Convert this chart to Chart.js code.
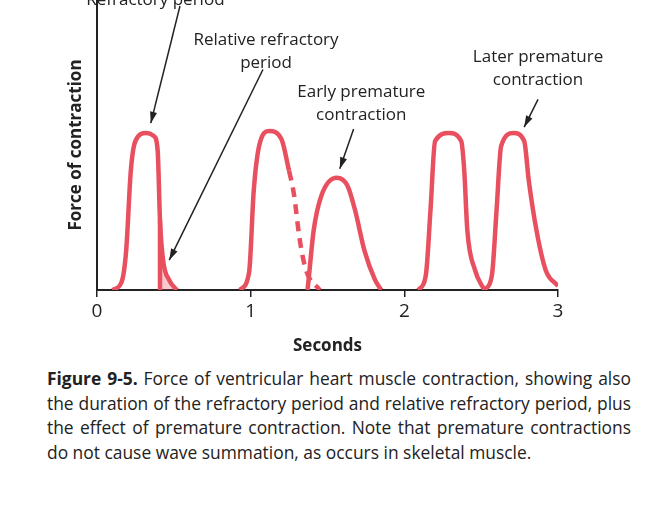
<!DOCTYPE html>
<html><head><meta charset="utf-8">
<script src="https://cdn.jsdelivr.net/npm/chart.js@4"></script>
<style>
body{margin:0;background:#fff;font-family:"Open Sans",sans-serif;}
#wrap{position:absolute;left:0;top:0;width:660px;height:360px;}
#cap{position:absolute;left:47px;top:366px;width:584px;font-size:17.4px;line-height:24.5px;text-align:justify;color:#222;}
</style></head><body>
<div id="wrap"><canvas id="c" width="660" height="360"></canvas></div>
<div id="cap"><b>Figure 9-5.</b> Force of ventricular heart muscle contraction, showing also the duration of the refractory period and relative refractory period, plus the effect of premature contraction. Note that premature contractions do not cause wave summation, as occurs in skeletal muscle.</div>
<script>
// seconds / force (arbitrary units, baseline 0)
const wave1 = [[0.1,0],[0.16,8],[0.19,40],[0.22,120],[0.25,150],[0.32,158],[0.37,155],[0.395,140],[0.41,70],[0.43,30],[0.47,10],[0.52,0]];
const refractoryMark = [[0.41,0],[0.41,70]];
const relTail = [[0.41,70],[0.43,30],[0.47,10],[0.52,0]];
const wave2 = [[0.93,0],[0.99,18],[1.02,100],[1.055,145],[1.12,160],[1.2,152],[1.25,120]];
const wave2dash = [[1.25,120],[1.28,98],[1.32,50],[1.36,20],[1.45,0]];
const early = [[1.37,0],[1.38,15],[1.41,60],[1.46,95],[1.56,113],[1.63,105],[1.68,80],[1.74,40],[1.81,10],[1.85,0]];
const wave4 = [[2.09,0],[2.14,15],[2.17,80],[2.2,150],[2.29,158],[2.37,150],[2.39,120],[2.41,60],[2.46,20],[2.52,0]];
const wave5 = [[2.52,0],[2.57,15],[2.6,80],[2.63,145],[2.71,158],[2.78,150],[2.81,110],[2.86,60],[2.92,20],[3.0,4]];
const xTicks = [0,1,2,3];

// text, x-seconds, y-force of label centre lines, arrow from/to
const notes = [
  {lines:['Refractory period'], x:0.38, y:292, from:[0.54,286], to:[0.35,168]},
  {lines:['Relative refractory','period'], x:1.1, y:252, from:[1.08,222], to:[0.47,30]},
  {lines:['Early premature','contraction'], x:1.72, y:199, from:[1.67,162], to:[1.58,122]},
  {lines:['Later premature','contraction'], x:2.87, y:234, from:[2.87,192], to:[2.78,164]}
];

const red = '#e8505f';
const pts = a => a.map(p => ({x:p[0], y:p[1]}));
function ds(a, extra) {
  return Object.assign({data:pts(a), borderColor:red, borderWidth:4.5, pointRadius:0, fill:false,
    cubicInterpolationMode:'monotone', borderCapStyle:'butt'}, extra || {});
}

const notesPlugin = {
  id:'notes',
  afterDatasetsDraw(chart) {
    const {ctx, scales:{x, y}} = chart;
    ctx.save();
    ctx.fillStyle = '#222'; ctx.strokeStyle = '#222';
    ctx.font = '17px "Open Sans"'; ctx.textAlign = 'center'; ctx.textBaseline = 'middle';
    notes.forEach(n => {
      n.lines.forEach((t, i) => ctx.fillText(t, x.getPixelForValue(n.x), y.getPixelForValue(n.y) + i*23));
      const x1 = x.getPixelForValue(n.from[0]), y1 = y.getPixelForValue(n.from[1]);
      const x2 = x.getPixelForValue(n.to[0]), y2 = y.getPixelForValue(n.to[1]);
      ctx.lineWidth = 1.5;
      ctx.beginPath(); ctx.moveTo(x1, y1); ctx.lineTo(x2, y2); ctx.stroke();
      const a = Math.atan2(y2 - y1, x2 - x1);
      ctx.beginPath(); ctx.moveTo(x2, y2);
      ctx.lineTo(x2 - 12*Math.cos(a - 0.3), y2 - 12*Math.sin(a - 0.3));
      ctx.lineTo(x2 - 12*Math.cos(a + 0.3), y2 - 12*Math.sin(a + 0.3));
      ctx.closePath(); ctx.fill();
    });
    ctx.restore();
  }
};

new Chart(document.getElementById('c'), {
  type:'line',
  data:{datasets:[
    ds(relTail, {borderWidth:0, fill:'origin', backgroundColor:'rgba(232,80,95,0.3)'}),
    ds(wave1), ds(refractoryMark, {cubicInterpolationMode:'default', tension:0}),
    ds(wave2), ds(wave2dash, {borderDash:[10,7]}),
    ds(early), ds(wave4), ds(wave5)
  ]},
  options:{
    responsive:false, animation:false,
    layout:{padding:{left:62, right:102, top:0, bottom:0}},
    plugins:{legend:{display:false}, tooltip:{enabled:false}},
    scales:{
      x:{type:'linear', min:0, max:3,
        afterBuildTicks: s => { s.ticks = xTicks.map(v => ({value:v})); },
        afterFit: s => { s.height = 70; },
        border:{color:'#222', width:2},
        grid:{drawOnChartArea:false, tickLength:7, color:'#222', lineWidth:1.5},
        ticks:{color:'#222', font:{size:19, family:'Open Sans'}, padding:3},
        title:{display:true, text:'Seconds', color:'#222', font:{size:17, weight:'bold', family:'Open Sans'}, padding:{top:2}}
      },
      y:{min:0, max:292,
        afterFit: s => { s.width = 35; },
        border:{color:'#222', width:2},
        grid:{display:false},
        ticks:{display:false},
        title:{display:true, text:'Force of contraction', color:'#222', font:{size:17, weight:'bold', family:'Open Sans'}, padding:{bottom:0}}
      }
    }
  },
  plugins:[notesPlugin]
});
</script>
</body></html>
